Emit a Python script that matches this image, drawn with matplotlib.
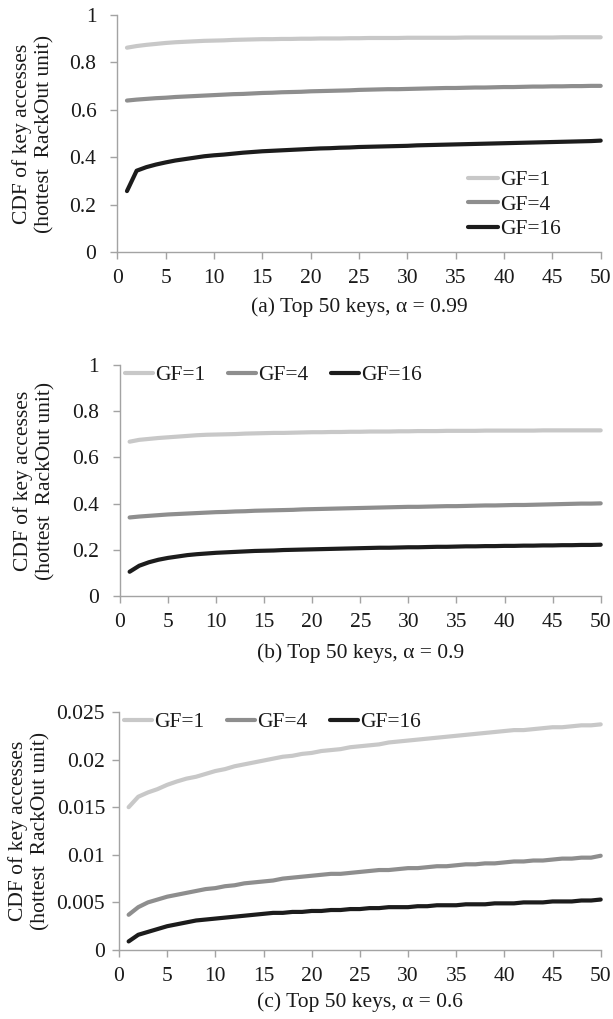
import matplotlib.pyplot as plt
from matplotlib.ticker import FuncFormatter

plt.rcParams['font.family'] = ['Liberation Serif', 'DejaVu Serif']

keys = list(range(1, 51))
labels = ['GF=1', 'GF=4', 'GF=16']

# (a) alpha = 0.99
a_gf1 = [0.862, 0.869, 0.874, 0.878, 0.882, 0.885, 0.887, 0.889, 0.891, 0.892,
         0.893, 0.895, 0.896, 0.897, 0.898, 0.898, 0.899, 0.899, 0.900, 0.900,
         0.901, 0.901, 0.901, 0.902, 0.902, 0.903, 0.903, 0.903, 0.903, 0.904,
         0.904, 0.904, 0.904, 0.904, 0.904, 0.905, 0.905, 0.905, 0.905, 0.905,
         0.905, 0.905, 0.905, 0.905, 0.905, 0.906, 0.906, 0.906, 0.906, 0.906]
a_gf4 = [0.639, 0.643, 0.646, 0.649, 0.651, 0.654, 0.656, 0.658, 0.660, 0.662,
         0.664, 0.666, 0.667, 0.669, 0.671, 0.672, 0.674, 0.675, 0.676, 0.678,
         0.679, 0.680, 0.681, 0.682, 0.684, 0.685, 0.686, 0.687, 0.687, 0.688,
         0.689, 0.690, 0.691, 0.692, 0.692, 0.693, 0.694, 0.694, 0.695, 0.696,
         0.696, 0.697, 0.698, 0.698, 0.699, 0.699, 0.700, 0.700, 0.701, 0.701]
a_gf16 = [0.257, 0.343, 0.358, 0.369, 0.378, 0.386, 0.392, 0.398, 0.404, 0.408,
          0.411, 0.415, 0.419, 0.422, 0.425, 0.427, 0.429, 0.431, 0.433, 0.435,
          0.437, 0.438, 0.440, 0.441, 0.443, 0.444, 0.445, 0.446, 0.447, 0.448,
          0.450, 0.451, 0.452, 0.453, 0.454, 0.455, 0.456, 0.457, 0.458, 0.459,
          0.460, 0.461, 0.462, 0.463, 0.464, 0.465, 0.466, 0.467, 0.468, 0.470]

# (b) alpha = 0.9
b_gf1 = [0.668, 0.676, 0.680, 0.684, 0.687, 0.690, 0.693, 0.696, 0.698, 0.699,
         0.700, 0.701, 0.703, 0.704, 0.705, 0.706, 0.706, 0.707, 0.708, 0.709,
         0.709, 0.710, 0.710, 0.711, 0.711, 0.712, 0.712, 0.712, 0.713, 0.713,
         0.714, 0.714, 0.714, 0.715, 0.715, 0.715, 0.715, 0.716, 0.716, 0.716,
         0.716, 0.716, 0.716, 0.717, 0.717, 0.717, 0.717, 0.717, 0.717, 0.717]
b_gf4 = [0.340, 0.344, 0.347, 0.350, 0.353, 0.355, 0.357, 0.359, 0.361, 0.363,
         0.364, 0.366, 0.367, 0.369, 0.370, 0.371, 0.372, 0.373, 0.375, 0.376,
         0.377, 0.378, 0.379, 0.380, 0.381, 0.382, 0.383, 0.384, 0.385, 0.386,
         0.386, 0.387, 0.388, 0.389, 0.389, 0.390, 0.391, 0.392, 0.392, 0.393,
         0.394, 0.394, 0.395, 0.396, 0.397, 0.398, 0.399, 0.400, 0.400, 0.401]
b_gf16 = [0.105, 0.131, 0.146, 0.157, 0.165, 0.171, 0.177, 0.181, 0.184, 0.187,
          0.189, 0.191, 0.193, 0.195, 0.196, 0.197, 0.199, 0.200, 0.201, 0.202,
          0.203, 0.204, 0.205, 0.206, 0.207, 0.208, 0.209, 0.209, 0.210, 0.211,
          0.211, 0.212, 0.213, 0.213, 0.214, 0.215, 0.215, 0.216, 0.216, 0.217,
          0.217, 0.218, 0.218, 0.219, 0.219, 0.220, 0.220, 0.221, 0.221, 0.222]

# (c) alpha = 0.6
c_gf1 = [0.0150, 0.0161, 0.01655, 0.0169, 0.01735, 0.0177, 0.0180, 0.0182, 0.0185, 0.0188,
         0.0190, 0.0193, 0.0195, 0.0197, 0.0199, 0.0201, 0.0203, 0.0204, 0.0206, 0.0207,
         0.0209, 0.0210, 0.0211, 0.0213, 0.0214, 0.0215, 0.0216, 0.0218, 0.0219, 0.0220,
         0.0221, 0.0222, 0.0223, 0.0224, 0.0225, 0.0226, 0.0227, 0.0228, 0.0229, 0.0230,
         0.0231, 0.0231, 0.0232, 0.0233, 0.0234, 0.0234, 0.0235, 0.0236, 0.0236, 0.0237]
c_gf4 = [0.0037, 0.0045, 0.0050, 0.0053, 0.0056, 0.0058, 0.0060, 0.0062, 0.0064, 0.0065,
         0.0067, 0.0068, 0.0070, 0.0071, 0.0072, 0.0073, 0.0075, 0.0076, 0.0077, 0.0078,
         0.0079, 0.0080, 0.0080, 0.0081, 0.0082, 0.0083, 0.0084, 0.0084, 0.0085, 0.0086,
         0.0086, 0.0087, 0.0088, 0.0088, 0.0089, 0.0090, 0.0090, 0.0091, 0.0091, 0.0092,
         0.0093, 0.0093, 0.0094, 0.0094, 0.0095, 0.0096, 0.0096, 0.0097, 0.0097, 0.0099]
c_gf16 = [0.0009, 0.0016, 0.0019, 0.0022, 0.0025, 0.0027, 0.0029, 0.0031, 0.0032, 0.0033,
          0.0034, 0.0035, 0.0036, 0.0037, 0.0038, 0.0039, 0.0039, 0.0040, 0.0040, 0.0041,
          0.0041, 0.0042, 0.0042, 0.0043, 0.0043, 0.0044, 0.0044, 0.0045, 0.0045, 0.0045,
          0.0046, 0.0046, 0.0047, 0.0047, 0.0047, 0.0048, 0.0048, 0.0048, 0.0049, 0.0049,
          0.0049, 0.0050, 0.0050, 0.0050, 0.0051, 0.0051, 0.0051, 0.0052, 0.0052, 0.0053]

captions = ['(a) Top 50 keys, \u03b1 = 0.99', '(b) Top 50 keys, \u03b1 = 0.9',
            '(c) Top 50 keys, \u03b1 = 0.6']
ylabel = 'CDF of key accesses\n(hottest  RackOut unit)'

colors = ['#c8c8c8', '#8e8e8e', '#1c1c1c']
axis_col = '#a3a3a3'
txt_col = '#1a1a1a'
FS = 15.5

W, H = 613, 1019
fig = plt.figure(figsize=(W / 100, H / 100), dpi=100)


def px_axes(l, t, r, b):
    return fig.add_axes([l / W, 1 - b / H, (r - l) / W, (b - t) / H])


panels = [
    dict(rect=(117.3, 15, 600.7, 252), series=[a_gf1, a_gf4, a_gf16],
         ylim=1.0, yticks=[0, 0.2, 0.4, 0.6, 0.8, 1.0], cap_y=307, ylab_x=33, ypad=10),
    dict(rect=(120, 365, 600.7, 596), series=[b_gf1, b_gf4, b_gf16],
         ylim=1.0, yticks=[0, 0.2, 0.4, 0.6, 0.8, 1.0], cap_y=653, ylab_x=34, ypad=10),
    dict(rect=(119, 712, 600.7, 950), series=[c_gf1, c_gf4, c_gf16],
         ylim=0.025, yticks=[0, 0.005, 0.01, 0.015, 0.02, 0.025], cap_y=1002, ylab_x=29, ypad=5),
]

for i, p in enumerate(panels):
    l, t, r, b = p['rect']
    ax = px_axes(l, t, r, b)
    for ys, lab, c in zip(p['series'], labels, colors):
        ax.plot(keys, ys, color=c, lw=3.0, label=lab, clip_on=False,
                solid_capstyle='round', solid_joinstyle='round')
    ax.set_xlim(0, 50)
    ax.set_ylim(0, p['ylim'])
    ax.set_xticks(range(0, 51, 5))
    ax.set_yticks(p['yticks'])
    ax.yaxis.set_major_formatter(FuncFormatter(lambda v, pos: f'{v:g}'))
    for s in ['top', 'right']:
        ax.spines[s].set_visible(False)
    for s in ['left', 'bottom']:
        ax.spines[s].set_color(axis_col)
        ax.spines[s].set_linewidth(1.0)
    ax.tick_params(axis='both', direction='out', length=5, width=1.0, color=axis_col,
                   labelsize=FS, labelcolor=txt_col)
    ax.tick_params(axis='x', pad=7)
    ax.tick_params(axis='y', pad=p['ypad'])

    if i == 0:
        ax.legend(loc='upper left', bbox_to_anchor=(0.725, 0.345), frameon=False,
                  fontsize=FS, handlelength=1.4, handletextpad=0.1, labelspacing=0.2,
                  borderpad=0, borderaxespad=0, labelcolor=txt_col)
    else:
        ax.legend(loc='upper left', bbox_to_anchor=(0.011, 1.0), ncol=3, frameon=False,
                  fontsize=FS, handlelength=1.3, handletextpad=0.1, columnspacing=1.05,
                  borderpad=0, borderaxespad=0, labelcolor=txt_col)

    fig.text((l + r) / 2 / W, 1 - p['cap_y'] / H, captions[i], ha='center', va='center',
             fontsize=FS, color=txt_col)
    fig.text(p['ylab_x'] / W, 1 - (t + b) / 2 / H, ylabel, rotation=90, ha='center',
             va='center', fontsize=FS, color=txt_col, linespacing=1.2)

fig.savefig('out.png', dpi=100)
